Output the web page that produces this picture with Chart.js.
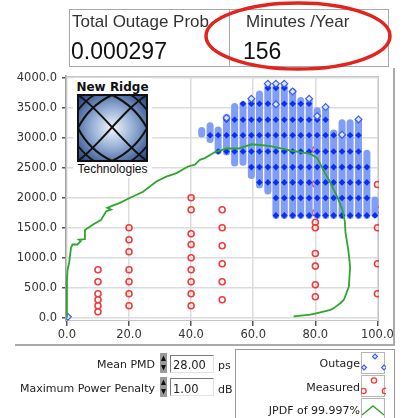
<!DOCTYPE html>
<html lang="en">
<head>
<meta charset="UTF-8">
<title>PMD Outage Chart</title>
<script src="https://cdn.jsdelivr.net/npm/chart.js"></script>
<style>
  html, body { margin: 0; padding: 0; background: #fff; }
  body { width: 409px; height: 418px; position: relative; overflow: hidden; font-family: "DejaVu Sans", sans-serif; color: #222; }
  .abs { position: absolute; white-space: nowrap; }
  #plot { position: absolute; left: 0; top: 0; }
  .box { position: absolute; border: 1px solid #a8a8a8; box-sizing: border-box; }
  .lbl { font-family: "Liberation Sans", Arial, sans-serif; font-size: 17px; line-height: 17px; color: #333; }
  .val { font-family: "Liberation Sans", Arial, sans-serif; font-size: 23px; line-height: 23px; color: #111; }
  .small { font-size: 11px; line-height: 11px; color: #222; }
  .num { position: absolute; width: 44px; height: 18px; box-sizing: border-box; background: #fff;
         border-top: 1px solid #7a7a7a; border-left: 1px solid #7a7a7a; border-right: 1px solid #e2e2e2; border-bottom: 1px solid #e2e2e2; }
</style>
</head>
<body>
<canvas id="plot" width="409" height="418"></canvas>

<!-- indicators at the top -->
<div class="box" style="left:69px; top:9px; width:161px; height:58px;"></div>
<div class="box" style="left:229px; top:9px; width:160px; height:58px;"></div>
<div class="abs lbl" style="left:72px; top:13px;">Total Outage Prob</div>
<div class="abs val" style="left:71px; top:40px;">0.000297</div>
<div class="abs lbl" style="left:246px; top:13px;">Minutes /Year</div>
<div class="abs val" style="left:243px; top:40px;">156</div>
<svg class="abs" style="left:0; top:0;" width="409" height="80">
  <ellipse cx="298" cy="36" rx="92" ry="33" fill="none" stroke="#e3231e" stroke-width="3.5"/>
</svg>

<!-- graph frame -->
<div class="abs" style="left:15px; top:344px; width:380px; height:2px; background:#aaa;"></div>
<div class="abs" style="left:393px; top:68px; width:2px; height:278px; background:#aaa;"></div>

<!-- logo -->
<div class="abs" style="left:73px; top:78px; width:79px; height:100px; background:#fff;"></div>
<div class="abs" style="left:73px; top:81px; width:79px; text-align:center; font-weight:bold; font-size:12px; line-height:12px; color:#111;">New Ridge</div>
<svg class="abs" style="left:77px; top:94px;" width="71" height="68" viewBox="0 0 71 68">
  <defs>
    <radialGradient id="lg" cx="50%" cy="50%" r="65%">
      <stop offset="0" stop-color="#f4f7fc"/>
      <stop offset="0.5" stop-color="#8eaad2"/>
      <stop offset="1" stop-color="#2c4a82"/>
    </radialGradient>
  </defs>
  <rect x="1" y="1" width="69" height="66" fill="url(#lg)"/>
  <g fill="none" stroke="#111" stroke-width="2">
    <path d="M1,1 C22,14 48,52 70,67"/>
    <path d="M70,1 C48,14 22,52 1,67"/>
    <path d="M35,1 Q58,12 70,34 Q58,56 35,67 Q12,56 1,34 Q12,12 35,1"/>
    <path d="M1,16 Q9,6 17,1"/>
    <path d="M54,1 Q62,6 70,16"/>
    <path d="M1,52 Q9,62 17,67"/>
    <path d="M54,67 Q62,62 70,52"/>
  </g>
  <rect x="1" y="1" width="69" height="66" fill="none" stroke="#111" stroke-width="2"/>
</svg>
<div class="abs" style="left:73px; top:163px; width:79px; text-align:center; font-family:'Liberation Sans', Arial, sans-serif; font-size:12px; line-height:12px; color:#111;">Technologies</div>

<!-- controls -->
<div class="abs small" style="right:254px; top:359px;">Mean PMD</div>
<div class="abs small" style="right:254px; top:383px;">Maximum Power Penalty</div>
<svg class="abs" style="left:160px; top:353px;" width="8" height="44">
  <rect x="0" y="0" width="7" height="20" fill="#9a9a9a"/>
  <path d="M1,8 L3.5,2.5 L6,8 Z M1,12 L3.5,17.5 L6,12 Z" fill="#111"/>
  <rect x="0" y="24" width="7" height="20" fill="#9a9a9a"/>
  <path d="M1,32 L3.5,26.5 L6,32 Z M1,36 L3.5,41.5 L6,36 Z" fill="#111"/>
</svg>
<div class="num" style="left:170px; top:355px;"></div>
<div class="num" style="left:170px; top:378px;"></div>
<div class="abs small" style="left:173px; top:360px; font-size:11.5px;">28.00</div>
<div class="abs small" style="left:173px; top:384px; font-size:11.5px;">1.00</div>
<div class="abs small" style="left:218px; top:360px;">ps</div>
<div class="abs small" style="left:218px; top:384px;">dB</div>

<!-- legend -->
<div class="box" style="left:235px; top:349px; width:160px; height:80px; border-color:#999;"></div>
<div class="abs small" style="right:49px; top:358px;">Outage</div>
<div class="abs small" style="right:49px; top:382px;">Measured</div>
<div class="abs small" style="right:49px; top:405px;">JPDF of 99.997%</div>
<svg class="abs" style="left:361px; top:352px;" width="25" height="66">
  <rect x="0.5" y="0.5" width="23" height="21" fill="#fff" stroke="#b5b5b5"/>
  <rect x="0.5" y="23.5" width="23" height="21" fill="#fff" stroke="#b5b5b5"/>
  <rect x="0.5" y="46.5" width="23" height="21" fill="#fff" stroke="#b5b5b5"/>
  <g fill="#e4eafd" stroke="#3d5ef2" stroke-width="1.1">
    <path d="M3,13 L5.5,15.5 L3,18 L0.5,15.5 Z"/>
    <path d="M14,2 L16.5,4.5 L14,7 L11.5,4.5 Z"/>
    <path d="M23,13 L25.5,15.5 L23,18 L20.5,15.5 Z"/>
  </g>
  <g fill="none" stroke="#f03c3c" stroke-width="1.4">
    <circle cx="2.5" cy="39" r="2.6"/>
    <circle cx="13" cy="28.5" r="2.6"/>
    <circle cx="24" cy="39" r="2.6"/>
  </g>
  <polyline points="1,63 12,54 23,63" fill="none" stroke="#2ea52e" stroke-width="1.4"/>
</svg>

<script>
// axis ticks
const xTicks = [0, 20, 40, 60, 80, 100];
const yTicks = [0, 500, 1000, 1500, 2000, 2500, 3000, 3500, 4000];

// measured points (red circles)
const measuredX = [10, 10, 10, 10, 10, 10,
                   20, 20, 20, 20, 20, 20, 20,
                   40, 40, 40, 40, 40, 40, 40, 40, 40,
                   50, 50, 50, 50, 50, 50,
                   80, 80, 80, 80, 80, 80, 80, 80, 80,
                   100, 100, 100, 100, 100];
const measuredY = [800, 600, 400, 300, 200, 100,
                   1500, 1300, 1100, 800, 600, 400, 200,
                   2000, 1800, 1400, 1220, 1000, 800, 600, 400, 200,
                   1800, 1500, 1200, 900, 600, 300,
                   2800, 2230, 1750, 1590, 1500, 1070, 860, 550, 350,
                   2220, 1800, 1500, 900, 400];

// outage region: columns, their low/high extent, and the rows of solid dots
const outageCols = [43.4, 46.1, 48.7, 51.4, 54.0, 56.7, 59.4, 62.0, 64.7, 67.3, 70.0,
                    72.7, 75.3, 78.0, 80.6, 83.3, 85.9, 88.6, 91.2, 93.9, 96.6, 99.2];
const outageLo = [3060, 2970, 2780, 2760, 2580, 2590, 2370, 2210, 2110, 1705, 1705,
                  1705, 1705, 1705, 1705, 1705, 1705, 1705, 1705, 1705, 1705, 1720];
const outageHi = [3120, 3200, 3130, 3340, 3520, 3550, 3600, 3730, 3840, 3840, 3840,
                  3770, 3620, 3620, 3450, 3460, 3080, 3250, 3250, 3280, 2740, 1960];
const outageRows = [3830, 3565, 3300, 3040, 2770, 2510, 2255, 1995, 1705];
const outageOpenX = [0.3, 51.4, 59.4, 64.7, 67.3, 70.0, 67.3, 72.7, 78.0, 80.6, 83.3, 88.6, 93.9];
const outageOpenY = [15, 3330, 3650, 3900, 3900, 3900, 3555, 3770, 3650, 3360, 3510, 3050, 3305];

// JPDF contour (green)
const jpdfX = [0, 0, 0.2, 0.7, 1.3, 1.8, 3.4, 4.5, 3.9, 5.6, 5.8, 8.3, 11.0, 12.6, 14.2, 13.0,
               15.3, 16.9, 20.2, 24.5, 28.8, 32.0, 35.3, 39.0, 41.2, 42.8, 44.4, 47.7, 51.5,
               55.2, 59.5, 63.9, 66.0, 69.3, 72.0, 75.2, 78.4, 80.6, 82.7, 84.9, 87.1, 88.7,
               89.5, 89.7, 90.6, 91.2, 90.8, 89.2, 88.1, 86.0, 84.9, 80.6, 78.4, 73.0];
const jpdfY = [0, 630, 800, 910, 1160, 1220, 1220, 1280, 1300, 1310, 1460, 1550, 1630, 1770, 1800, 1830,
               1880, 1910, 1995, 2100, 2270, 2350, 2410, 2520, 2550, 2630, 2660, 2760, 2820,
               2820, 2890, 2870, 2855, 2817, 2783, 2760, 2730, 2660, 2450, 2245, 2010, 1800,
               1600, 1420, 1130, 850, 520, 300, 245, 160, 130, 78, 50, 22];

const zip = (xs, ys) => xs.map((x, i) => ({ x: x, y: ys[i] }));

// light blue bands: one stroke per column, split by nulls
const bandPoints = [];
outageCols.forEach((x, i) => {
    bandPoints.push({ x: x, y: outageLo[i] }, { x: x, y: outageHi[i] }, { x: x, y: null });
});
// solid dots where a row lies inside a column
const dotPoints = [];
outageCols.forEach((x, i) => {
    outageRows.forEach(r => {
        if (r >= outageLo[i] - 15 && r <= outageHi[i] + 15) dotPoints.push({ x: x, y: r });
    });
});

const plotFrame = {
    id: 'plotFrame',
    beforeDatasetsDraw(chart) {
        const a = chart.chartArea, c = chart.ctx;
        c.save();
        c.strokeStyle = '#c6c6c6';
        c.lineWidth = 1;
        c.strokeRect(a.left + 0.5, a.top + 0.5, a.right - a.left - 1, a.bottom - a.top - 1);
        c.restore();
    }
};

const tickFont = { family: 'DejaVu Sans', size: 11.5 };

new Chart(document.getElementById('plot'), {
    type: 'scatter',
    data: {
        datasets: [
            { label: 'JPDF of 99.997%', type: 'line', data: zip(jpdfX, jpdfY), borderColor: '#2ea52e',
              borderWidth: 1.8, pointRadius: 0, tension: 0, fill: false, clip: 0, order: 0 },
            { label: 'Outage open', data: zip(outageOpenX, outageOpenY), pointStyle: 'rectRot', pointRadius: 3.4,
              borderColor: '#3d5ef2', backgroundColor: '#dfe6fd', borderWidth: 1.2, clip: 0, order: 1 },
            { label: 'Outage', data: dotPoints, pointStyle: 'rectRot', pointRadius: 3.3,
              backgroundColor: '#0b2ef0', borderColor: '#0b2ef0', borderWidth: 0, clip: 0, order: 2 },
            { label: 'Outage band', type: 'line', data: bandPoints, borderColor: '#809df7', borderWidth: 7,
              borderCapStyle: 'round', pointRadius: 0, spanGaps: false, fill: false, clip: 0, order: 3 },
            { label: 'Measured', data: zip(measuredX, measuredY), pointStyle: 'circle', pointRadius: 3,
              borderColor: '#f03c3c', backgroundColor: 'rgba(255,255,255,0)', borderWidth: 1.6, clip: 0, order: 4 }
        ]
    },
    options: {
        responsive: false,
        animation: false,
        devicePixelRatio: 1,
        events: [],
        layout: { padding: { left: 0, right: 30, top: 76, bottom: 75 } },
        plugins: { legend: { display: false }, tooltip: { enabled: false } },
        scales: {
            x: {
                type: 'linear', min: -0.3, max: 100.5,
                afterBuildTicks: s => { s.ticks = xTicks.map(v => ({ value: v })); },
                afterFit: s => { s.height = 22; },
                grid: { color: '#dcdcdc', lineWidth: 1.5, tickColor: '#555', tickLength: 5 },
                border: { display: false },
                ticks: { color: '#333', font: tickFont, padding: 2, maxRotation: 0, autoSkip: false,
                         callback: v => v.toFixed(1) }
            },
            y: {
                type: 'linear', min: -55, max: 4028,
                afterBuildTicks: s => { s.ticks = yTicks.map(v => ({ value: v })); },
                afterFit: s => { s.width = 66; },
                grid: { color: '#dcdcdc', lineWidth: 1.5, tickColor: '#555', tickLength: 4 },
                border: { display: true, color: '#a0a0a0', width: 1.5 },
                ticks: { color: '#333', font: tickFont, padding: 5, autoSkip: false,
                         callback: v => v.toFixed(1) }
            }
        }
    },
    plugins: [plotFrame]
});
</script>
</body>
</html>
